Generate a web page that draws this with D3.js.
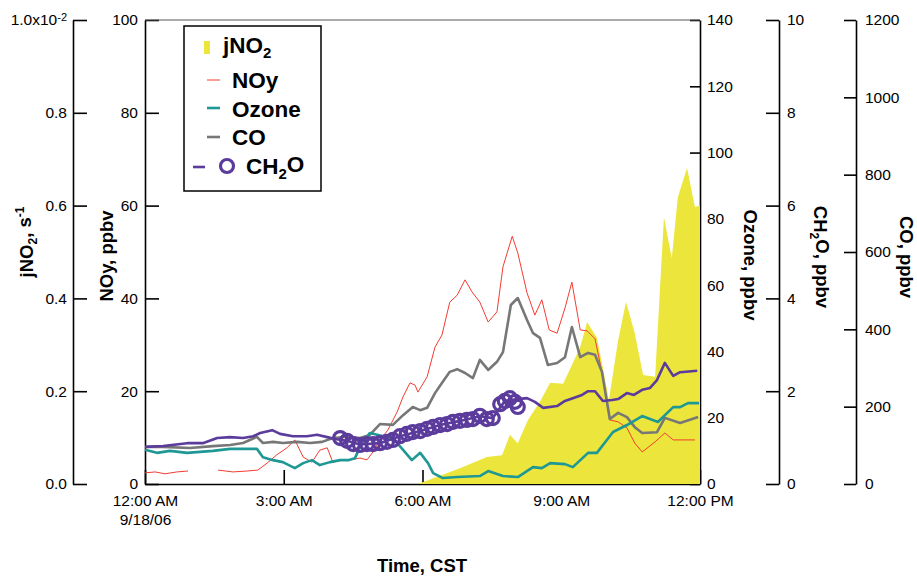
<!DOCTYPE html>
<html>
<head>
<meta charset="utf-8">
<script src="https://cdn.jsdelivr.net/npm/d3@7"></script>
<style>
  body { margin: 0; background: #fff; }
  svg { font-family: "Liberation Sans", Arial, Helvetica, sans-serif; }
</style>
</head>
<body>
<script>
// DATA  (time = hours after 12:00 AM CST, 9/18/06)
// jNO2 in units of 1e-2 s-1
const jno2Data = [
  [5.90, 0], [6.81, 0.034], [7.39, 0.058], [7.72, 0.062], [7.89, 0.106], [8.06, 0.088],
  [8.28, 0.138], [8.54, 0.177], [8.76, 0.218], [9.04, 0.216], [9.15, 0.239], [9.41, 0.295],
  [9.56, 0.349], [9.77, 0.315], [9.90, 0.250], [10.03, 0.181], [10.23, 0.310], [10.40, 0.392],
  [10.59, 0.325], [10.77, 0.235], [11.03, 0.231], [11.22, 0.575], [11.39, 0.487], [11.52, 0.618],
  [11.72, 0.681], [11.89, 0.597], [12.0, 0.600]
];
// NOy, ppbv (null = gap in record)
const noyData = [
  [0, 2.4], [0.22, 2.6], [0.43, 2.2], [0.69, 2.6], [0.93, 2.8], [1.25, null],
  [1.58, 3.0], [1.90, 2.6], [2.21, 2.8], [2.44, 3.0], [2.64, 4.5], [2.85, 6.3], [3.07, 7.8],
  [3.24, 9.5], [3.42, 5.8], [3.61, 4.7], [3.78, 7.3], [3.94, 7.8], [4.06, 4.7], [4.28, 5.2],
  [4.43, 5.2], [4.65, 5.6], [4.80, 5.2], [4.93, 6.9], [5.08, 9.5], [5.25, 11.6], [5.45, 15.5],
  [5.58, 18.8], [5.73, 21.8], [5.84, 21.3], [5.90, 19.8], [6.10, 23.1], [6.27, 29.5], [6.42, 32.1],
  [6.59, 39.2], [6.75, 40.7], [6.92, 44.0], [7.07, 41.4], [7.24, 39.2], [7.42, 34.9], [7.61, 37.1],
  [7.74, 46.8], [7.94, 53.4], [8.06, 49.8], [8.26, 41.2], [8.43, 36.4], [8.58, 39.7], [8.74, 33.2],
  [8.91, 32.5], [9.08, 37.9], [9.23, 43.5], [9.41, 33.2], [9.56, 33.0], [9.73, 31.3], [9.88, 24.1],
  [10.05, 13.8], [10.23, 13.4], [10.42, 12.1], [10.59, 8.8], [10.75, 6.9], [11.03, 9.1],
  [11.24, 11.0], [11.42, 9.5], [11.89, 9.5]
];
// Ozone, ppbv
const ozoneData = [
  [0, 10.3], [0.26, 9.4], [0.54, 10.0], [0.91, 9.4], [1.47, 10.0], [1.84, 10.6], [2.42, 10.6],
  [2.55, 8.1], [2.77, 7.2], [2.98, 6.6], [3.24, 4.8], [3.42, 6.3], [3.61, 7.2], [3.78, 5.7],
  [4.00, 6.6], [4.22, 7.2], [4.39, 7.2], [4.54, 7.8], [4.65, 11.2], [4.86, 15.4], [5.04, 14.8],
  [5.23, 14.2], [5.45, 12.4], [5.58, 10.3], [5.77, 7.2], [5.95, 9.4], [6.12, 6.3], [6.23, 3.3],
  [6.44, 1.8], [6.75, 2.1], [7.24, 2.4], [7.42, 3.9], [7.74, 2.4], [8.06, 2.1], [8.39, 5.1],
  [8.58, 4.8], [8.76, 6.3], [9.08, 6.0], [9.25, 5.1], [9.58, 9.4], [9.77, 9.4], [10.12, 15.7],
  [10.42, 17.8], [10.75, 20.5], [11.09, 18.7], [11.42, 23.2], [11.57, 23.2], [11.74, 24.4],
  [11.98, 24.4]
];
// CO, ppbv
const coData = [
  [0, 96], [0.39, 96], [0.97, 93], [1.47, 98], [1.84, 101], [2.12, 106], [2.42, 122], [2.55, 106],
  [2.77, 109], [2.98, 106], [3.29, 109], [3.57, 106], [3.83, 109], [4.06, 119], [4.37, 122],
  [4.65, 119], [4.86, 127], [5.08, 155], [5.36, 153], [5.58, 178], [5.79, 199], [5.95, 191],
  [6.10, 197], [6.27, 235], [6.42, 261], [6.59, 290], [6.75, 297], [6.92, 287], [7.09, 274],
  [7.24, 321], [7.42, 295], [7.61, 316], [7.74, 341], [7.91, 463], [8.06, 481], [8.26, 424],
  [8.39, 390], [8.54, 378], [8.71, 308], [8.91, 313], [9.08, 328], [9.23, 406], [9.41, 328],
  [9.58, 339], [9.73, 334], [9.88, 290], [10.05, 168], [10.23, 184], [10.42, 173], [10.59, 147],
  [10.75, 132], [11.07, 134], [11.24, 171], [11.57, 158], [11.96, 173]
];
// CH2O, ppbv (averaged trace)
const ch2oLineData = [
  [0, 0.80], [0.39, 0.82], [0.91, 0.88], [1.25, 0.88], [1.56, 0.99], [1.84, 1.01], [2.12, 0.99],
  [2.34, 1.03], [2.49, 1.10], [2.75, 1.16], [2.92, 1.08], [3.20, 1.03], [3.50, 1.03], [3.72, 1.06],
  [3.94, 1.01], [4.11, 0.97], [4.37, 0.93], [4.65, 0.85], [5.08, 0.88], [5.51, 1.03], [5.95, 1.14],
  [6.38, 1.27], [6.81, 1.36], [7.24, 1.46], [7.52, 1.42], [7.78, 1.79], [8.06, 1.83], [8.26, 1.85],
  [8.43, 1.77], [8.61, 1.64], [8.91, 1.68], [9.08, 1.79], [9.25, 1.85], [9.45, 1.92], [9.58, 2.00],
  [9.73, 2.00], [9.90, 1.79], [10.10, 1.81], [10.23, 1.83], [10.42, 1.96], [10.57, 1.92],
  [10.75, 2.03], [10.92, 2.07], [11.07, 2.24], [11.24, 2.61], [11.42, 2.33], [11.57, 2.41],
  [11.94, 2.44]
];
// CH2O, ppbv (individual measurements, circles)
const ch2oPointData = [
  [4.22, 0.99], [4.37, 0.93], [4.50, 0.86], [4.65, 0.84], [4.80, 0.86], [4.93, 0.86], [5.08, 0.88],
  [5.23, 0.91], [5.36, 0.95], [5.51, 1.03], [5.66, 1.08], [5.79, 1.12], [5.95, 1.14], [6.10, 1.19],
  [6.23, 1.23], [6.38, 1.27], [6.53, 1.29], [6.66, 1.34], [6.81, 1.36], [6.96, 1.38], [7.09, 1.40],
  [7.24, 1.47], [7.39, 1.40], [7.52, 1.42], [7.68, 1.72], [7.78, 1.79], [7.89, 1.85], [8.00, 1.77],
  [8.06, 1.66]
];

const jno2Ticks = [0, 0.2, 0.4, 0.6, 0.8, 1.0];
const noyTicks = [0, 20, 40, 60, 80, 100];
const ozoneTicks = [0, 20, 40, 60, 80, 100, 120, 140];
const ch2oTicks = [0, 2, 4, 6, 8, 10];
const coTicks = [0, 200, 400, 600, 800, 1000, 1200];
const timeTickHours = [0, 3, 6, 9, 12];
const dateLabel = "9/18/06";

const COLORS = {
  jno2: "#ece63c",
  noy: "#f23c32",
  ozone: "#1f9895",
  co: "#777777",
  ch2o: "#5b3b9c",
};

// LAYOUT
const width = 917;
const height = 576;
const plotLeft = 145;
const plotRight = 700;
const plotTop = 20;
const plotBottom = 484;
const tickFont = "15.5px";
const titleFont = "18.5px";

const day0 = new Date(2006, 8, 18, 0, 0);
const toDate = (h) => new Date(day0.getTime() + h * 3600 * 1000);

const svg = d3.select("body").append("svg")
  .attr("width", width)
  .attr("height", height);

// SCALES
const x = d3.scaleTime().domain([toDate(0), toDate(12)]).range([plotLeft, plotRight]);
const yJ = d3.scaleLinear().domain([0, 1]).range([plotBottom, plotTop]);
const yNoy = d3.scaleLinear().domain([0, 100]).range([plotBottom, plotTop]);
const yOz = d3.scaleLinear().domain([0, 140]).range([plotBottom, plotTop]);
const yCh2o = d3.scaleLinear().domain([0, 10]).range([plotBottom, plotTop]);
const yCo = d3.scaleLinear().domain([0, 1200]).range([plotBottom, plotTop]);

const styleAxis = (g) => {
  g.attr("font-family", null).attr("font-size", null);
  g.select(".domain").attr("stroke", "#000").attr("stroke-width", 1.6);
  g.selectAll(".tick line").attr("stroke", "#000").attr("stroke-width", 1.6);
  g.selectAll(".tick text").attr("fill", "#000").style("font-size", tickFont);
};

// AXES
const jAxis = svg.append("g")
  .attr("transform", `translate(73,0)`)
  .call(d3.axisLeft(yJ).tickValues(jno2Ticks).tickFormat(d3.format(".1f"))
    .tickSizeInner(-14).tickSizeOuter(0).tickPadding(6))
  .call(styleAxis);
// top label is 1.0x10^-2
jAxis.selectAll(".tick text").filter((d) => d === 1).each(function () {
  const t = d3.select(this).text("");
  t.append("tspan").text("1.0x10");
  t.append("tspan").attr("dy", "-0.45em").style("font-size", "11px").text("-2");
});

svg.append("g")
  .attr("transform", `translate(${plotLeft},0)`)
  .call(d3.axisLeft(yNoy).tickValues(noyTicks).tickSizeInner(-14).tickSizeOuter(0).tickPadding(7))
  .call(styleAxis);

svg.append("g")
  .attr("transform", `translate(${plotRight},0)`)
  .call(d3.axisRight(yOz).tickValues(ozoneTicks).tickSizeInner(-10).tickSizeOuter(0).tickPadding(7))
  .call(styleAxis);

svg.append("g")
  .attr("transform", `translate(779,0)`)
  .call(d3.axisRight(yCh2o).tickValues(ch2oTicks).tickSizeInner(-13).tickSizeOuter(0).tickPadding(8))
  .call(styleAxis);

svg.append("g")
  .attr("transform", `translate(856,0)`)
  .call(d3.axisRight(yCo).tickValues(coTicks).tickFormat(d3.format("d"))
    .tickSizeInner(-12).tickSizeOuter(0).tickPadding(9))
  .call(styleAxis);

const xAxis = svg.append("g")
  .attr("transform", `translate(0,${plotBottom})`)
  .call(d3.axisBottom(x).tickValues(timeTickHours.map(toDate))
    .tickFormat(d3.timeFormat("%-I:%M %p"))
    .tickSizeInner(-14).tickSizeOuter(0).tickPadding(11))
  .call(styleAxis);
xAxis.selectAll(".tick text").filter((d, i) => i === 0)
  .append("tspan").attr("x", 0).attr("dy", "1.2em").text(dateLabel);

// top frame
svg.append("line")
  .attr("x1", plotLeft).attr("x2", plotRight)
  .attr("y1", plotTop).attr("y2", plotTop)
  .attr("stroke", "#555").attr("stroke-width", 1);

// jNO2 AREA (drawn over the axis lines as in the original)
svg.append("path")
  .datum(jno2Data)
  .attr("fill", COLORS.jno2)
  .attr("d", d3.area()
    .x((d) => x(toDate(d[0])))
    .y0(yJ(0))
    .y1((d) => yJ(d[1])));

// LINES
const drawLine = (data, yScale, color, w) => {
  svg.append("path")
    .datum(data)
    .attr("fill", "none")
    .attr("stroke", color)
    .attr("stroke-width", w)
    .attr("stroke-linejoin", "round")
    .attr("d", d3.line()
      .defined((d) => d[1] != null)
      .x((d) => x(toDate(d[0])))
      .y((d) => yScale(d[1])));
};

drawLine(noyData, yNoy, COLORS.noy, 1);
drawLine(coData, yCo, COLORS.co, 2.6);
drawLine(ozoneData, yOz, COLORS.ozone, 2.6);
drawLine(ch2oLineData, yCh2o, COLORS.ch2o, 2.6);

svg.append("g")
  .selectAll("circle")
  .data(ch2oPointData)
  .enter()
  .append("circle")
  .attr("cx", (d) => x(toDate(d[0])))
  .attr("cy", (d) => yCh2o(d[1]))
  .attr("r", 6.5)
  .attr("fill", "none")
  .attr("stroke", COLORS.ch2o)
  .attr("stroke-width", 3.2);

// AXIS TITLES
const addTitle = (tx, ty, rot, parts) => {
  const t = svg.append("text")
    .attr("transform", `translate(${tx},${ty}) rotate(${rot})`)
    .attr("text-anchor", "middle")
    .style("font-size", titleFont)
    .style("font-weight", "bold");
  parts.forEach(([s, kind]) => {
    const sp = t.append("tspan").text(s);
    if (kind === "sub") sp.attr("dy", "0.3em").style("font-size", "12px");
    if (kind === "sup") sp.attr("dy", "-0.55em").style("font-size", "12px");
    if (kind === "back") sp.attr("dy", "-0.3em");
  });
  return t;
};

addTitle(33, 242, -90, [["jNO", ""], ["2", "sub"], [", s", "back"], ["-1", "sup"]]);
addTitle(113, 256, -90, [["NOy, ppbv", ""]]);
addTitle(744, 265, 90, [["Ozone, ppbv", ""]]);
addTitle(814, 257, 90, [["CH", ""], ["2", "sub"], ["O, ppbv", "back"]]);
addTitle(900, 257, 90, [["CO, ppbv", ""]]);

svg.append("text")
  .attr("x", 422).attr("y", 572)
  .attr("text-anchor", "middle")
  .style("font-size", titleFont)
  .style("font-weight", "bold")
  .text("Time, CST");

// LEGEND
const legend = svg.append("g").attr("transform", "translate(184,26)");
legend.append("rect")
  .attr("width", 137).attr("height", 165)
  .attr("fill", "#fff").attr("stroke", "#000").attr("stroke-width", 1.5);

const legendFont = "22.5px";
const legendText = (lx, ly, parts) => {
  const t = legend.append("text")
    .attr("x", lx).attr("y", ly)
    .style("font-size", legendFont)
    .style("font-weight", "bold");
  parts.forEach(([s, kind]) => {
    const sp = t.append("tspan").text(s);
    if (kind === "sub") sp.attr("dy", "0.3em").style("font-size", "15px");
    if (kind === "back") sp.attr("dy", "-0.3em");
  });
};

legend.append("rect").attr("x", 20).attr("y", 15).attr("width", 6).attr("height", 13)
  .attr("fill", COLORS.jno2);
legendText(39, 27, [["jNO", ""], ["2", "sub"]]);

legend.append("line").attr("x1", 23).attr("x2", 36).attr("y1", 54).attr("y2", 54)
  .attr("stroke", COLORS.noy).attr("stroke-width", 1);
legendText(48, 62, [["NOy", ""]]);

legend.append("line").attr("x1", 23).attr("x2", 36).attr("y1", 82).attr("y2", 82)
  .attr("stroke", COLORS.ozone).attr("stroke-width", 2.6);
legendText(48, 91, [["Ozone", ""]]);

legend.append("line").attr("x1", 23).attr("x2", 36).attr("y1", 111).attr("y2", 111)
  .attr("stroke", COLORS.co).attr("stroke-width", 2.6);
legendText(48, 119, [["CO", ""]]);

legend.append("line").attr("x1", 9).attr("x2", 21).attr("y1", 141).attr("y2", 141)
  .attr("stroke", COLORS.ch2o).attr("stroke-width", 2.6);
legend.append("circle").attr("cx", 43).attr("cy", 140).attr("r", 6.5)
  .attr("fill", "none").attr("stroke", COLORS.ch2o).attr("stroke-width", 3.2);
legendText(62, 148, [["CH", ""], ["2", "sub"], ["O", "back"]]);
</script>
</body>
</html>
